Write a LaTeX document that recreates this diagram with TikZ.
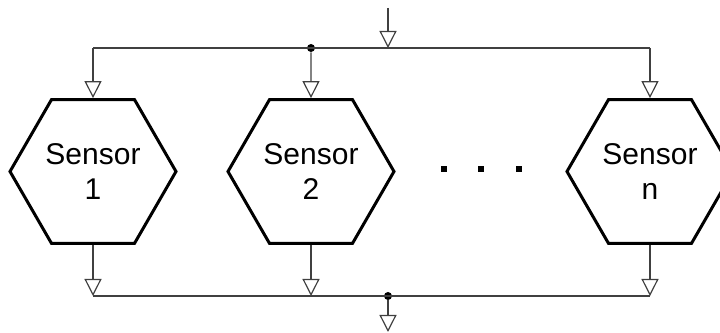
\documentclass[tikz,border=0pt]{standalone}
\usepackage{fontspec}
\setmainfont{Liberation Sans}
\usetikzlibrary{shapes.geometric}
\usetikzlibrary{arrows.meta,calc}
\tikzset{
  sensor/.style = {
    regular polygon, regular polygon sides=6,
    minimum size=83pt, inner sep=0pt,
    draw, line width=1.5pt, align=center,
    font=\fontsize{15}{17.5}\selectfont
  },
  wire/.style = {draw=black!75, line width=0.6pt},
  flow/.style = {wire, -{Triangle[open, length=8.5pt, width=8.5pt]}},
  junct/.style = {fill=black, circle, inner sep=0pt, minimum size=4pt}
}

\begin{document}
\begin{tikzpicture}[x=0.5pt,y=0.5pt]
  \useasboundingbox (0,0) rectangle (720,333);
  % the sensors
  \foreach \x/\n in {93/1, 311/2, 650/n}{
    \node[sensor] (s\n) at (\x,161.5) {Sensor\\\n};
  }
  % the dots between them
  \foreach \x in {444, 481, 519}{
    \fill (\x-3,161) rectangle (\x+3,167);
  }
  % input and top bus
  \coordinate (in) at (388,325);
  \node[junct] (top) at (311,285) {};
  \draw[wire] (top -| s1.north) -- (top -| sn.north);
  \draw[flow] (in) -- (in |- top);
  \draw[flow] (top -| s1.north) -- (s1.north);
  \draw[flow] (top) -- (s2.north);
  \draw[flow] (top -| sn.north) -- (sn.north);
  % bottom bus and output
  \node[junct] (bot) at (388,37) {};
  \coordinate (out) at (388,1);
  \draw[wire] (bot -| s1.south) -- (bot -| sn.south);
  \draw[flow] (s1.south) -- (bot -| s1.south);
  \draw[flow] (s2.south) -- (bot -| s2.south);
  \draw[flow] (sn.south) -- (bot -| sn.south);
  \draw[flow] (bot) -- (out);
\end{tikzpicture}
\end{document}
